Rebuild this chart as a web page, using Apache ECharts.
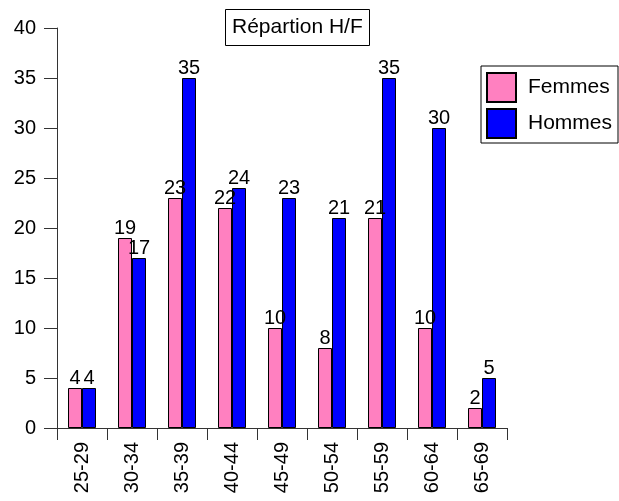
<!DOCTYPE html>
<html>
<head>
<meta charset="utf-8">
<script src="https://cdn.jsdelivr.net/npm/echarts@6/dist/echarts.min.js"></script>
<style>
html,body{margin:0;padding:0;background:#fff;}
#c{width:619px;height:501px;}
</style>
</head>
<body>
<div id="c"></div>
<script>
const categories = ['25-29','30-34','35-39','40-44','45-49','50-54','55-59','60-64','65-69'];
const femmes = [4,19,23,22,10,8,21,10,2];
const hommes = [4,17,35,24,23,21,35,30,5];
const yTicks = [0,5,10,15,20,25,30,35,40];

const FONT = '"Liberation Sans", Arial, sans-serif';
const chart = echarts.init(document.getElementById('c'), null, {renderer:'canvas'});
const labelCfg = {show:true, position:'top', distance:0, color:'#000', fontSize:20, fontFamily:FONT};
chart.setOption({
  animation:false,
  backgroundColor:'#fff',
  title:{
    text:'Répartion H/F',
    left:225, top:9,
    padding:[8,7,8,7],
    borderColor:'#000', borderWidth:1,
    textStyle:{fontSize:21, fontWeight:'normal', color:'#000', fontFamily:FONT}
  },
  legend:{
    orient:'vertical',
    left:481, top:66,
    padding:[6,6,4,5],
    itemWidth:29, itemHeight:29, itemGap:5,
    borderColor:'#000', borderWidth:1,
    icon:'rect',
    textStyle:{fontSize:21, color:'#000', fontFamily:FONT, padding:[0,0,0,7]},
    data:['Femmes','Hommes']
  },
  grid:{left:57, right:112, top:28, bottom:73, containLabel:false},
  xAxis:{
    type:'category',
    data:categories,
    boundaryGap:true,
    axisLine:{show:true, lineStyle:{color:'#333', width:1}},
    axisTick:{show:true, length:12, alignWithLabel:false, lineStyle:{color:'#333'}},
    axisLabel:{rotate:90, margin:14, fontSize:20, color:'#000', fontFamily:FONT, interval:0},
    splitLine:{show:false}
  },
  yAxis:{
    type:'value',
    min:yTicks[0], max:yTicks[yTicks.length-1], interval:yTicks[1]-yTicks[0],
    axisLine:{show:true, lineStyle:{color:'#333', width:1}},
    axisTick:{show:true, length:13, lineStyle:{color:'#333'}},
    axisLabel:{margin:21, fontSize:20, color:'#000', fontFamily:FONT},
    splitLine:{show:false}
  },
  series:[
    {name:'Femmes', type:'bar', data:femmes, barWidth:14, barGap:'0%',
     itemStyle:{color:'#FF80C0', borderColor:'#000', borderWidth:1},
     label:labelCfg},
    {name:'Hommes', type:'bar', data:hommes, barWidth:14, barGap:'0%',
     itemStyle:{color:'#0000FF', borderColor:'#000', borderWidth:1},
     label:labelCfg}
  ]
});
</script>
</body>
</html>
